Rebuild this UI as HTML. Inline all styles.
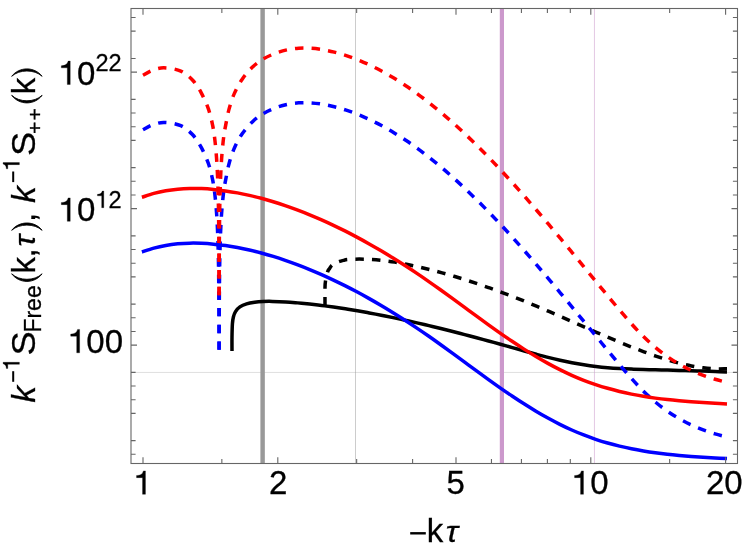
<!DOCTYPE html>
<html><head><meta charset="utf-8"><title>plot</title>
<style>html,body{margin:0;padding:0;background:#fff;overflow:hidden}body{width:748px;height:555px;position:relative;font-family:"Liberation Sans",sans-serif}</style></head>
<body>
<svg width="748" height="555" viewBox="0 0 748 555" style="position:absolute;left:0;top:0;will-change:transform">
<rect width="748" height="555" fill="#fff"/>
<line x1="131.0" y1="372.45" x2="737.5" y2="372.45" stroke="#999" stroke-width="0.32"/>
<line x1="355.5" y1="8.5" x2="355.5" y2="463.5" stroke="#999" stroke-width="0.5"/>
<line x1="594.45" y1="8.5" x2="594.45" y2="463.5" stroke="#cc99cc" stroke-width="0.55"/>
<line x1="262.62" y1="8.5" x2="262.62" y2="463.5" stroke="#999" stroke-width="4.45"/>
<line x1="501.9" y1="8.5" x2="501.9" y2="463.5" stroke="#cc99cc" stroke-width="4.2"/>
<g fill="none" stroke-width="3.50" stroke-linejoin="round">
<path d="M232.00 351.10 C232.00 348.80 231.93 341.85 232.00 337.30 C232.07 332.75 232.17 327.18 232.40 323.80 C232.63 320.42 232.88 319.03 233.40 317.00 C233.92 314.97 234.42 313.28 235.50 311.60 C236.58 309.92 238.05 308.20 239.90 306.90 C241.75 305.60 244.13 304.58 246.60 303.80 C249.07 303.02 252.00 302.58 254.70 302.20 C257.40 301.82 259.87 301.63 262.80 301.50 C265.73 301.37 268.47 301.34 272.30 301.40 C276.13 301.46 281.56 301.64 285.80 301.89 C290.04 302.13 293.75 302.51 297.72 302.87 C301.70 303.23 305.67 303.63 309.65 304.06 C313.62 304.50 317.60 304.96 321.57 305.46 C325.55 305.96 329.52 306.50 333.50 307.06 C337.47 307.62 341.45 308.22 345.42 308.84 C349.40 309.46 353.37 310.12 357.35 310.80 C361.32 311.48 365.30 312.18 369.27 312.92 C373.25 313.65 377.22 314.41 381.19 315.19 C385.17 315.98 389.14 316.79 393.12 317.61 C397.09 318.44 401.07 319.30 405.04 320.17 C409.02 321.04 412.99 321.94 416.97 322.85 C420.94 323.77 424.92 324.70 428.89 325.65 C432.87 326.60 436.84 327.57 440.82 328.55 C444.79 329.53 448.77 330.53 452.74 331.55 C456.72 332.56 460.69 333.59 464.66 334.63 C468.64 335.67 472.61 336.72 476.59 337.78 C480.56 338.85 484.54 339.92 488.51 341.00 C492.49 342.09 496.46 343.18 500.44 344.28 C504.41 345.38 508.39 346.49 512.36 347.60 C516.34 348.71 520.31 349.84 524.29 350.94 C528.26 352.05 532.24 353.16 536.21 354.23 C540.19 355.29 544.16 356.35 548.14 357.34 C552.11 358.34 556.08 359.30 560.06 360.19 C564.03 361.08 568.01 361.91 571.98 362.67 C575.96 363.43 579.93 364.12 583.91 364.75 C587.88 365.37 591.86 365.93 595.83 366.42 C599.81 366.90 603.78 367.31 607.76 367.66 C611.73 368.02 615.71 368.29 619.68 368.53 C623.66 368.77 627.63 368.95 631.61 369.12 C635.58 369.28 639.55 369.39 643.53 369.51 C647.50 369.62 651.48 369.71 655.45 369.80 C659.43 369.90 663.40 369.99 667.38 370.09 C671.35 370.19 675.33 370.29 679.30 370.39 C683.28 370.50 687.25 370.61 691.23 370.73 C695.20 370.85 699.18 370.97 703.15 371.10 C707.13 371.23 711.10 371.37 715.08 371.52 C719.05 371.67 725.01 371.92 727.00 372.00" stroke="#000"/>
<path d="M325.00 305.50 C325.00 302.58 324.92 292.08 325.00 288.00 C325.08 283.92 325.05 283.73 325.50 281.00 C325.95 278.27 327.02 273.68 327.70 271.60 C328.38 269.52 328.97 269.48 329.60 268.50 C330.23 267.52 330.60 266.58 331.50 265.70 C332.40 264.82 333.65 263.92 335.00 263.20 C336.35 262.48 338.18 261.87 339.60 261.40 C341.02 260.93 342.23 260.71 343.50 260.40 C344.77 260.09 344.61 259.74 347.20 259.53 C349.79 259.31 355.11 259.11 359.07 259.10 C363.02 259.09 366.98 259.22 370.94 259.45 C374.89 259.68 378.85 260.04 382.81 260.49 C386.76 260.94 390.72 261.50 394.68 262.13 C398.63 262.76 402.59 263.49 406.54 264.27 C410.50 265.06 414.46 265.93 418.41 266.83 C422.37 267.74 426.32 268.72 430.28 269.73 C434.24 270.73 438.19 271.79 442.15 272.89 C446.11 273.98 450.06 275.12 454.02 276.30 C457.98 277.48 461.93 278.70 465.89 279.96 C469.84 281.22 473.80 282.52 477.76 283.85 C481.71 285.18 485.67 286.56 489.62 287.96 C493.58 289.37 497.54 290.81 501.49 292.29 C505.45 293.76 509.41 295.27 513.36 296.81 C517.32 298.35 521.28 299.93 525.23 301.53 C529.19 303.13 533.14 304.76 537.10 306.42 C541.06 308.08 545.01 309.77 548.97 311.47 C552.92 313.17 556.88 314.90 560.84 316.63 C564.79 318.37 568.75 320.12 572.71 321.86 C576.66 323.61 580.62 325.37 584.58 327.11 C588.53 328.85 592.49 330.59 596.44 332.32 C600.40 334.04 604.36 335.76 608.31 337.44 C612.27 339.13 616.23 340.80 620.18 342.43 C624.14 344.06 628.09 345.67 632.05 347.24 C636.01 348.80 639.96 350.34 643.92 351.81 C647.88 353.29 651.83 354.73 655.79 356.09 C659.74 357.44 663.70 358.75 667.66 359.95 C671.61 361.15 675.57 362.28 679.52 363.28 C683.48 364.28 687.44 365.19 691.39 365.95 C695.35 366.71 699.31 367.37 703.26 367.85 C707.22 368.33 711.18 368.68 715.13 368.83 C719.09 368.99 725.02 368.80 727.00 368.80" stroke="#000" stroke-dasharray="8.50 8.12"/>
<path d="M143.00 129.80 C144.17 129.15 147.67 126.97 150.00 125.90 C152.33 124.83 154.75 123.98 157.00 123.40 C159.25 122.82 161.00 122.43 163.50 122.40 C166.00 122.37 169.12 122.65 172.00 123.20 C174.88 123.75 178.30 124.63 180.80 125.70 C183.30 126.77 185.02 128.08 187.00 129.60 C188.98 131.12 190.95 132.88 192.70 134.80 C194.45 136.72 196.05 138.95 197.50 141.10 C198.95 143.25 200.15 145.37 201.40 147.70 C202.65 150.03 203.83 152.47 205.00 155.10 C206.17 157.73 207.47 160.83 208.40 163.50 C209.33 166.17 209.90 168.40 210.60 171.10 C211.30 173.80 212.03 176.87 212.60 179.70 C213.17 182.53 213.60 185.22 214.03 188.10 C214.45 190.98 214.78 193.63 215.14 197.00 C215.51 200.37 215.89 204.37 216.21 208.30 C216.53 212.23 216.79 215.88 217.05 220.60 C217.31 225.32 217.58 231.10 217.79 236.60 C217.99 242.10 218.20 250.77 218.28 253.60" stroke="#00f" stroke-dasharray="8.50 8.12"/>
<path d="M219.10 349.80 C219.08 343.93 219.00 324.63 218.95 314.60 C218.90 304.57 218.86 297.10 218.80 289.60 C218.74 282.10 218.66 275.60 218.58 269.60 C218.49 263.60 218.33 256.27 218.28 253.60" stroke="#00f" stroke-dasharray="8.50 8.12"/>
<path d="M219.10 349.80 C219.12 343.93 219.20 324.63 219.25 314.60 C219.30 304.57 219.34 297.10 219.40 289.60 C219.46 282.10 219.54 275.60 219.62 269.60 C219.71 263.60 219.79 259.10 219.92 253.60 C220.05 248.10 220.21 242.10 220.41 236.60 C220.62 231.10 220.89 225.32 221.15 220.60 C221.41 215.88 221.67 212.23 221.99 208.30 C222.31 204.37 222.69 200.37 223.06 197.00 C223.42 193.63 223.73 190.98 224.17 188.10 C224.61 185.22 224.88 183.80 225.70 179.70 C226.52 175.60 227.63 168.83 229.10 163.50 C230.57 158.17 232.28 152.70 234.50 147.70 C236.72 142.70 239.35 137.88 242.40 133.50 C245.45 129.12 249.37 124.69 252.80 121.40 C256.23 118.11 259.32 116.01 263.00 113.79 C266.68 111.57 270.93 109.62 274.90 108.07 C278.86 106.52 282.83 105.38 286.79 104.51 C290.76 103.64 294.73 103.13 298.69 102.86 C302.66 102.58 306.62 102.62 310.59 102.85 C314.56 103.08 318.52 103.58 322.49 104.23 C326.45 104.88 330.42 105.75 334.38 106.75 C338.35 107.74 342.32 108.90 346.28 110.20 C350.25 111.51 354.21 112.96 358.18 114.55 C362.15 116.15 366.11 117.89 370.08 119.77 C374.04 121.64 378.01 123.66 381.97 125.81 C385.94 127.96 389.91 130.25 393.87 132.66 C397.84 135.07 401.80 137.62 405.77 140.28 C409.74 142.94 413.70 145.74 417.67 148.64 C421.63 151.55 425.60 154.58 429.56 157.71 C433.53 160.85 437.50 164.10 441.46 167.45 C445.43 170.80 449.39 174.26 453.36 177.82 C457.32 181.37 461.29 185.03 465.26 188.78 C469.22 192.53 473.19 196.37 477.15 200.30 C481.12 204.22 485.09 208.24 489.05 212.33 C493.02 216.42 496.98 220.60 500.95 224.84 C504.91 229.09 508.88 233.41 512.85 237.80 C516.81 242.18 520.78 246.64 524.74 251.15 C528.71 255.66 532.68 260.24 536.64 264.85 C540.61 269.47 544.57 274.14 548.54 278.84 C552.50 283.54 556.47 288.28 560.44 293.04 C564.40 297.80 568.37 302.60 572.33 307.40 C576.30 312.20 580.26 317.03 584.23 321.85 C588.20 326.67 592.16 331.50 596.13 336.32 C600.09 341.14 604.06 345.97 608.03 350.76 C611.99 355.55 615.96 360.38 619.92 365.06 C623.89 369.74 627.85 374.44 631.82 378.83 C635.79 383.22 639.75 387.50 643.72 391.40 C647.68 395.31 651.65 398.92 655.62 402.23 C659.58 405.54 663.55 408.53 667.51 411.29 C671.48 414.05 675.44 416.52 679.41 418.80 C683.38 421.08 687.34 423.10 691.31 424.95 C695.27 426.81 699.24 428.44 703.21 429.93 C707.17 431.42 711.14 432.71 715.10 433.89 C719.07 435.07 725.02 436.48 727.00 437.00" stroke="#00f" stroke-dasharray="8.50 8.12" stroke-dashoffset="-0.00"/>
<path d="M143.00 75.20 C144.17 74.55 147.67 72.37 150.00 71.30 C152.33 70.23 154.75 69.38 157.00 68.80 C159.25 68.22 161.00 67.83 163.50 67.80 C166.00 67.77 169.12 68.05 172.00 68.60 C174.88 69.15 178.30 70.03 180.80 71.10 C183.30 72.17 185.02 73.48 187.00 75.00 C188.98 76.52 190.95 78.28 192.70 80.20 C194.45 82.12 196.05 84.35 197.50 86.50 C198.95 88.65 200.15 90.77 201.40 93.10 C202.65 95.43 203.83 97.87 205.00 100.50 C206.17 103.13 207.47 106.23 208.40 108.90 C209.33 111.57 209.90 113.80 210.60 116.50 C211.30 119.20 212.03 122.27 212.60 125.10 C213.17 127.93 213.60 130.62 214.03 133.50 C214.45 136.38 214.78 139.03 215.14 142.40 C215.51 145.77 215.89 149.77 216.21 153.70 C216.53 157.63 216.79 161.28 217.05 166.00 C217.31 170.72 217.58 176.50 217.79 182.00 C217.99 187.50 218.20 196.17 218.28 199.00" stroke="#f00" stroke-dasharray="8.50 8.12"/>
<path d="M219.10 295.20 C219.08 289.33 219.00 270.03 218.95 260.00 C218.90 249.97 218.86 242.50 218.80 235.00 C218.74 227.50 218.66 221.00 218.58 215.00 C218.49 209.00 218.33 201.67 218.28 199.00" stroke="#f00" stroke-dasharray="8.50 8.12"/>
<path d="M219.10 295.20 C219.12 289.33 219.20 270.03 219.25 260.00 C219.30 249.97 219.34 242.50 219.40 235.00 C219.46 227.50 219.54 221.00 219.62 215.00 C219.71 209.00 219.79 204.50 219.92 199.00 C220.05 193.50 220.21 187.50 220.41 182.00 C220.62 176.50 220.89 170.72 221.15 166.00 C221.41 161.28 221.67 157.63 221.99 153.70 C222.31 149.77 222.69 145.77 223.06 142.40 C223.42 139.03 223.73 136.38 224.17 133.50 C224.61 130.62 224.88 129.20 225.70 125.10 C226.52 121.00 227.63 114.23 229.10 108.90 C230.57 103.57 232.28 98.10 234.50 93.10 C236.72 88.10 239.35 83.28 242.40 78.90 C245.45 74.52 249.37 70.09 252.80 66.80 C256.23 63.51 259.32 61.41 263.00 59.19 C266.68 56.97 270.93 55.02 274.90 53.47 C278.86 51.92 282.83 50.78 286.79 49.91 C290.76 49.04 294.73 48.53 298.69 48.26 C302.66 47.98 306.62 48.02 310.59 48.25 C314.56 48.48 318.52 48.98 322.49 49.63 C326.45 50.28 330.42 51.15 334.38 52.15 C338.35 53.14 342.32 54.30 346.28 55.60 C350.25 56.91 354.21 58.36 358.18 59.95 C362.15 61.55 366.11 63.29 370.08 65.17 C374.04 67.04 378.01 69.06 381.97 71.21 C385.94 73.36 389.91 75.65 393.87 78.06 C397.84 80.47 401.80 83.02 405.77 85.68 C409.74 88.34 413.70 91.14 417.67 94.04 C421.63 96.95 425.60 99.98 429.56 103.11 C433.53 106.25 437.50 109.50 441.46 112.85 C445.43 116.20 449.39 119.66 453.36 123.22 C457.32 126.77 461.29 130.43 465.26 134.18 C469.22 137.93 473.19 141.77 477.15 145.70 C481.12 149.62 485.09 153.64 489.05 157.73 C493.02 161.82 496.98 166.00 500.95 170.24 C504.91 174.49 508.88 178.81 512.85 183.20 C516.81 187.58 520.78 192.04 524.74 196.55 C528.71 201.06 532.68 205.64 536.64 210.25 C540.61 214.87 544.57 219.54 548.54 224.24 C552.50 228.94 556.47 233.68 560.44 238.44 C564.40 243.20 568.37 248.00 572.33 252.80 C576.30 257.60 580.26 262.43 584.23 267.25 C588.20 272.07 592.16 276.90 596.13 281.72 C600.09 286.54 604.06 291.37 608.03 296.16 C611.99 300.95 615.96 305.78 619.92 310.46 C623.89 315.14 627.85 319.84 631.82 324.23 C635.79 328.62 639.75 332.90 643.72 336.80 C647.68 340.71 651.65 344.32 655.62 347.63 C659.58 350.94 663.55 353.93 667.51 356.69 C671.48 359.45 675.44 361.92 679.41 364.20 C683.38 366.48 687.34 368.50 691.31 370.35 C695.27 372.21 699.24 373.84 703.21 375.33 C707.17 376.82 711.14 378.11 715.10 379.29 C719.07 380.47 725.02 381.88 727.00 382.40" stroke="#f00" stroke-dasharray="8.50 8.12" stroke-dashoffset="-0.00"/>
<path d="M141.90 251.99 C143.89 251.35 149.86 249.22 153.84 248.13 C157.82 247.05 161.80 246.17 165.78 245.46 C169.76 244.74 173.74 244.22 177.72 243.84 C181.70 243.46 185.68 243.25 189.66 243.16 C193.64 243.07 197.62 243.14 201.60 243.31 C205.58 243.47 209.56 243.77 213.54 244.16 C217.53 244.54 221.51 245.03 225.49 245.60 C229.47 246.17 233.45 246.83 237.43 247.57 C241.41 248.31 245.39 249.14 249.37 250.05 C253.35 250.96 257.33 251.95 261.31 253.01 C265.29 254.08 269.27 255.22 273.25 256.44 C277.23 257.65 281.21 258.95 285.19 260.30 C289.17 261.66 293.15 263.09 297.13 264.59 C301.11 266.08 305.09 267.64 309.07 269.27 C313.05 270.90 317.03 272.59 321.01 274.34 C324.99 276.10 328.97 277.92 332.95 279.80 C336.93 281.68 340.91 283.63 344.89 285.63 C348.87 287.63 352.85 289.70 356.83 291.82 C360.81 293.94 364.80 296.13 368.78 298.37 C372.76 300.60 376.74 302.90 380.72 305.25 C384.70 307.60 388.68 310.01 392.66 312.47 C396.64 314.93 400.62 317.45 404.60 320.02 C408.58 322.58 412.56 325.20 416.54 327.87 C420.52 330.54 424.50 333.27 428.48 336.03 C432.46 338.80 436.44 341.63 440.42 344.48 C444.40 347.33 448.38 350.23 452.36 353.13 C456.34 356.03 460.32 358.96 464.30 361.89 C468.28 364.81 472.26 367.74 476.24 370.65 C480.22 373.56 484.20 376.47 488.18 379.33 C492.16 382.19 496.14 385.03 500.12 387.81 C504.10 390.59 508.09 393.34 512.07 396.01 C516.05 398.68 520.03 401.29 524.01 403.82 C527.99 406.35 531.97 408.82 535.95 411.19 C539.93 413.56 543.91 415.86 547.89 418.05 C551.87 420.25 555.85 422.35 559.83 424.34 C563.81 426.34 567.79 428.23 571.77 430.00 C575.75 431.77 579.73 433.43 583.71 434.98 C587.69 436.52 591.67 437.95 595.65 439.29 C599.63 440.62 603.61 441.85 607.59 442.99 C611.57 444.14 615.55 445.18 619.53 446.14 C623.51 447.11 627.49 447.99 631.47 448.80 C635.45 449.61 639.43 450.33 643.41 451.00 C647.39 451.67 651.37 452.27 655.36 452.82 C659.34 453.37 663.32 453.86 667.30 454.30 C671.28 454.75 675.26 455.14 679.24 455.51 C683.22 455.87 687.20 456.18 691.18 456.48 C695.16 456.78 699.14 457.04 703.12 457.28 C707.10 457.53 711.08 457.75 715.06 457.97 C719.04 458.19 725.01 458.49 727.00 458.60" stroke="#00f"/>
<path d="M141.90 197.29 C143.89 196.65 149.86 194.52 153.84 193.43 C157.82 192.35 161.80 191.47 165.78 190.76 C169.76 190.04 173.74 189.52 177.72 189.14 C181.70 188.76 185.68 188.55 189.66 188.46 C193.64 188.37 197.62 188.44 201.60 188.61 C205.58 188.77 209.56 189.07 213.54 189.46 C217.53 189.84 221.51 190.33 225.49 190.90 C229.47 191.47 233.45 192.13 237.43 192.87 C241.41 193.61 245.39 194.44 249.37 195.35 C253.35 196.26 257.33 197.25 261.31 198.31 C265.29 199.38 269.27 200.52 273.25 201.74 C277.23 202.95 281.21 204.25 285.19 205.60 C289.17 206.96 293.15 208.39 297.13 209.89 C301.11 211.38 305.09 212.94 309.07 214.57 C313.05 216.20 317.03 217.89 321.01 219.64 C324.99 221.40 328.97 223.22 332.95 225.10 C336.93 226.98 340.91 228.93 344.89 230.93 C348.87 232.93 352.85 235.00 356.83 237.12 C360.81 239.24 364.80 241.43 368.78 243.67 C372.76 245.90 376.74 248.20 380.72 250.55 C384.70 252.90 388.68 255.31 392.66 257.77 C396.64 260.23 400.62 262.75 404.60 265.32 C408.58 267.88 412.56 270.50 416.54 273.17 C420.52 275.84 424.50 278.57 428.48 281.33 C432.46 284.10 436.44 286.93 440.42 289.78 C444.40 292.63 448.38 295.53 452.36 298.43 C456.34 301.33 460.32 304.26 464.30 307.19 C468.28 310.11 472.26 313.04 476.24 315.95 C480.22 318.86 484.20 321.77 488.18 324.63 C492.16 327.49 496.14 330.33 500.12 333.11 C504.10 335.89 508.09 338.64 512.07 341.31 C516.05 343.98 520.03 346.59 524.01 349.12 C527.99 351.65 531.97 354.12 535.95 356.49 C539.93 358.86 543.91 361.16 547.89 363.35 C551.87 365.55 555.85 367.65 559.83 369.64 C563.81 371.64 567.79 373.53 571.77 375.30 C575.75 377.07 579.73 378.73 583.71 380.28 C587.69 381.82 591.67 383.25 595.65 384.59 C599.63 385.92 603.61 387.15 607.59 388.29 C611.57 389.44 615.55 390.48 619.53 391.44 C623.51 392.41 627.49 393.29 631.47 394.10 C635.45 394.91 639.43 395.63 643.41 396.30 C647.39 396.97 651.37 397.57 655.36 398.12 C659.34 398.67 663.32 399.16 667.30 399.60 C671.28 400.05 675.26 400.44 679.24 400.81 C683.22 401.17 687.20 401.48 691.18 401.78 C695.16 402.08 699.14 402.34 703.12 402.58 C707.10 402.83 711.08 403.05 715.06 403.27 C719.04 403.49 725.01 403.79 727.00 403.90" stroke="#f00"/>
</g>
<rect x="131.0" y="8.5" width="606.5" height="455.0" fill="none" stroke="#666" stroke-width="1.1"/>
<path d="M131.00 345.10L137.00 345.10M737.50 345.10L731.50 345.10M131.00 208.60L137.00 208.60M737.50 208.60L731.50 208.60M131.00 72.10L137.00 72.10M737.50 72.10L731.50 72.10M131.00 454.30L135.60 454.30M737.50 454.30L732.90 454.30M131.00 440.65L135.60 440.65M737.50 440.65L732.90 440.65M131.00 413.35L135.60 413.35M737.50 413.35L732.90 413.35M131.00 399.70L135.60 399.70M737.50 399.70L732.90 399.70M131.00 386.05L135.60 386.05M737.50 386.05L732.90 386.05M131.00 372.40L135.60 372.40M737.50 372.40L732.90 372.40M131.00 331.45L135.60 331.45M737.50 331.45L732.90 331.45M131.00 317.80L135.60 317.80M737.50 317.80L732.90 317.80M131.00 304.15L135.60 304.15M737.50 304.15L732.90 304.15M131.00 276.85L135.60 276.85M737.50 276.85L732.90 276.85M131.00 263.20L135.60 263.20M737.50 263.20L732.90 263.20M131.00 249.55L135.60 249.55M737.50 249.55L732.90 249.55M131.00 235.90L135.60 235.90M737.50 235.90L732.90 235.90M131.00 194.95L135.60 194.95M737.50 194.95L732.90 194.95M131.00 181.30L135.60 181.30M737.50 181.30L732.90 181.30M131.00 167.65L135.60 167.65M737.50 167.65L732.90 167.65M131.00 140.35L135.60 140.35M737.50 140.35L732.90 140.35M131.00 126.70L135.60 126.70M737.50 126.70L732.90 126.70M131.00 113.05L135.60 113.05M737.50 113.05L732.90 113.05M131.00 99.40L135.60 99.40M737.50 99.40L732.90 99.40M131.00 58.45L135.60 58.45M737.50 58.45L732.90 58.45M131.00 31.15L135.60 31.15M737.50 31.15L732.90 31.15M131.00 17.50L135.60 17.50M737.50 17.50L732.90 17.50M143.00 463.50L143.00 457.30M143.00 8.50L143.00 14.70M277.80 463.50L277.80 457.30M277.80 8.50L277.80 14.70M456.00 463.50L456.00 457.30M456.00 8.50L456.00 14.70M590.80 463.50L590.80 457.30M590.80 8.50L590.80 14.70M725.60 463.50L725.60 457.30M725.60 8.50L725.60 14.70M221.85 463.50L221.85 458.90M221.85 8.50L221.85 13.10M356.65 463.50L356.65 458.90M356.65 8.50L356.65 13.10M412.60 463.50L412.60 458.90M412.60 8.50L412.60 13.10M491.46 463.50L491.46 458.90M491.46 8.50L491.46 13.10M521.43 463.50L521.43 458.90M521.43 8.50L521.43 13.10M547.40 463.50L547.40 458.90M547.40 8.50L547.40 13.10M570.31 463.50L570.31 458.90M570.31 8.50L570.31 13.10M669.65 463.50L669.65 458.90M669.65 8.50L669.65 13.10" stroke="#666" stroke-width="1.1" fill="none"/>
<g font-family="Liberation Sans, sans-serif" font-size="33" fill="#000" stroke="#000" stroke-width="0.3">
<path d="M145.45 494.30 L142.54 494.30 L142.54 477.63 L136.54 477.63 L136.54 475.56 C140.10 475.46 142.48 474.34 143.40 470.90 L145.45 470.90 Z" fill="#000"/>
<text x="269.0" y="494.3">2</text>
<text x="446.4" y="494.3">5</text>
<path d="M583.47 494.30 L580.56 494.30 L580.56 477.63 L574.56 477.63 L574.56 475.56 C578.12 475.46 580.50 474.34 581.42 470.90 L583.47 470.90 Z" fill="#000"/>
<text x="590.20" y="494.3">0</text>
<text x="706.0" y="494.3">20</text>
<path d="M79.62 352.80 L76.71 352.80 L76.71 336.13 L70.71 336.13 L70.71 334.06 C74.27 333.96 76.65 332.84 77.57 329.40 L79.62 329.40 Z" fill="#000"/>
<text x="86.35" y="352.8">00</text>
<path d="M70.22 221.30 L67.31 221.30 L67.31 204.64 L61.31 204.64 L61.31 202.56 C64.87 202.46 67.25 201.34 68.17 197.90 L70.22 197.90 Z" fill="#000"/>
<text x="76.95" y="221.3">0</text>
<path d="M103.77 207.70 L101.70 207.70 L101.70 195.83 L97.43 195.83 L97.43 194.35 C99.97 194.28 101.66 193.48 102.31 191.04 L103.77 191.04 Z" fill="#000"/>
<text x="108.57" y="207.7" font-size="23.5">2</text>
<path d="M70.22 84.50 L67.31 84.50 L67.31 67.84 L61.31 67.84 L61.31 65.76 C64.87 65.66 67.25 64.53 68.17 61.10 L70.22 61.10 Z" fill="#000"/>
<text x="76.95" y="84.5">0</text>
<text x="95.5" y="71.1" font-size="23.5">22</text>
<rect x="410.2" y="532.1" width="15.6" height="2.4" stroke="none"/>
<text x="426.8" y="542.3">k</text>
<text transform="translate(445.7,542.3) scale(1,0.92)" font-style="italic">τ</text>
<g transform="translate(35.3,403) rotate(-90)">
<text x="0.60" y="0.0" font-style="italic">k</text>
<rect x="21.2" y="-23.1" width="10.6" height="2.0" stroke="none"/>
<path d="M40.70 -15.90 L38.67 -15.90 L38.67 -27.52 L34.49 -27.52 L34.49 -28.96 C36.97 -29.03 38.63 -29.81 39.27 -32.21 L40.70 -32.21 Z" fill="#000"/>
<text transform="translate(47.40,0.0) scale(1.100,1)">S</text>
<text x="70.40" y="6.0" font-size="23">Free</text>
<path d="M129.20 -23.6 C119.07 -16 119.07 -0.8 129.20 6.8 C121.87 -0.8 121.87 -16 129.20 -23.6 Z" stroke-width="0.9" stroke-linejoin="round"/>
<text x="129.60" y="0.0">k</text>
<text x="145.45" y="0.0">,</text>
<text transform="translate(156.50,0) scale(0.95,0.92)" font-style="italic">τ</text>
<path d="M172.70 -23.6 C182.43 -16 182.43 -0.8 172.70 6.8 C179.63 -0.8 179.63 -16 172.70 -23.6 Z" stroke-width="0.9" stroke-linejoin="round"/>
<text x="181.00" y="0.0">,</text>
<text x="200.30" y="0.0" font-style="italic">k</text>
<rect x="220.9" y="-23.1" width="10.6" height="2.0" stroke="none"/>
<path d="M240.40 -15.90 L238.37 -15.90 L238.37 -27.52 L234.19 -27.52 L234.19 -28.96 C236.67 -29.03 238.33 -29.81 238.97 -32.21 L240.40 -32.21 Z" fill="#000"/>
<text transform="translate(246.90,0.0) scale(1.100,1)">S</text>
<text x="268.90" y="7.1" font-size="21">+</text>
<text x="282.40" y="7.1" font-size="21">+</text>
<path d="M307.70 -23.6 C297.57 -16 297.57 -0.8 307.70 6.8 C300.37 -0.8 300.37 -16 307.70 -23.6 Z" stroke-width="0.9" stroke-linejoin="round"/>
<text x="308.80" y="0.0">k</text>
<path d="M326.70 -23.6 C336.57 -16 336.57 -0.8 326.70 6.8 C333.77 -0.8 333.77 -16 326.70 -23.6 Z" stroke-width="0.9" stroke-linejoin="round"/>
</g>
</g>

</svg>
</body></html>
